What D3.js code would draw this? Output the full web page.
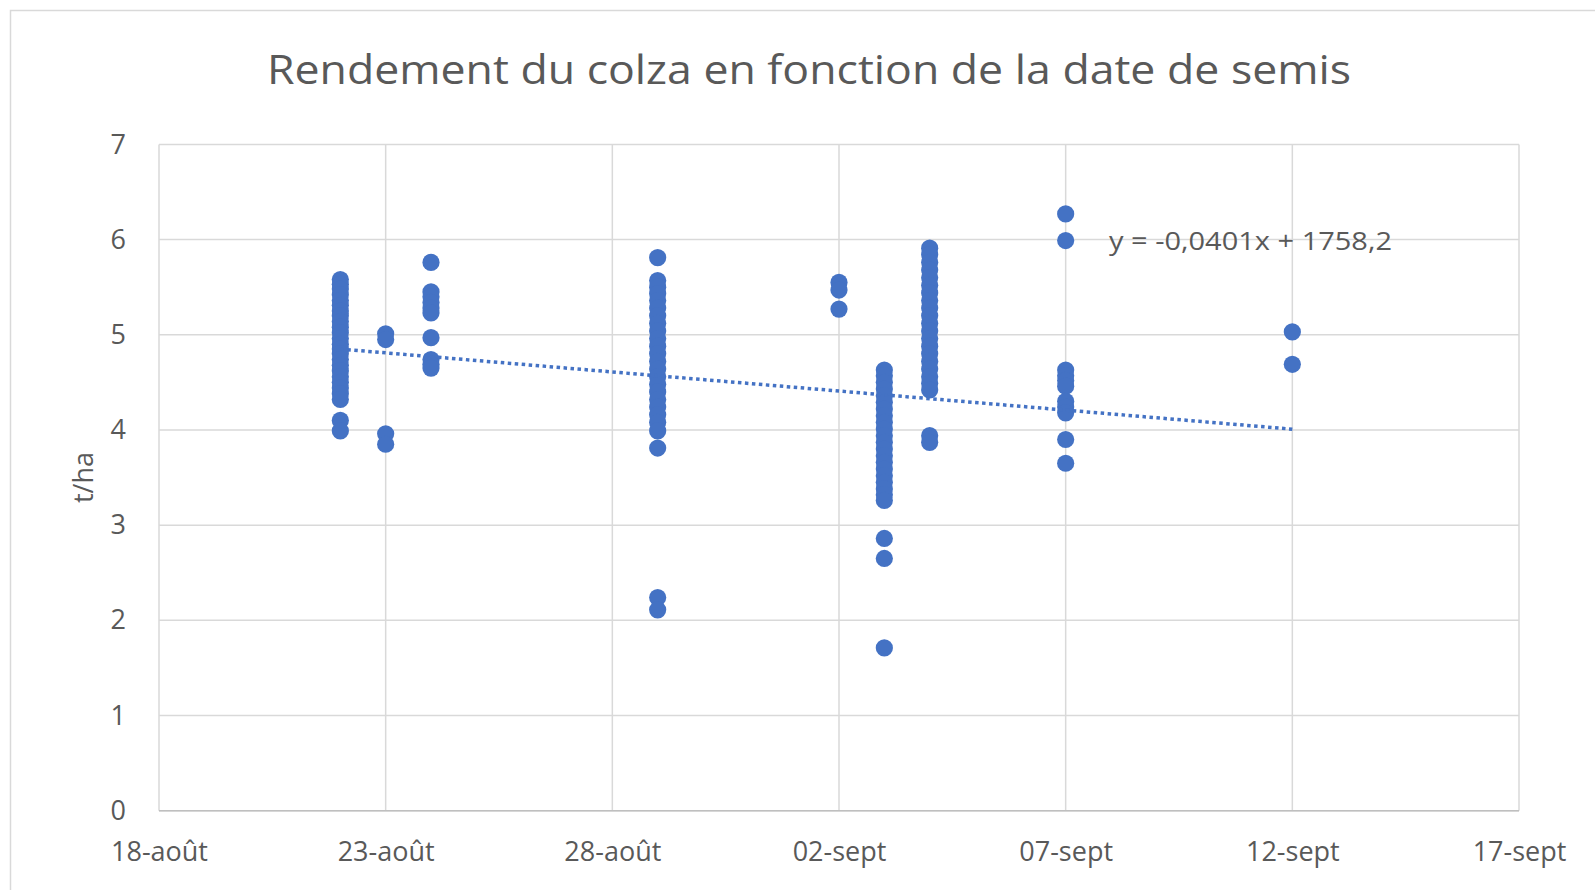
<!DOCTYPE html>
<html lang="fr">
<head>
<meta charset="utf-8">
<title>Rendement du colza</title>
<script src="https://d3js.org/d3.v7.min.js"></script>
<style>
  body { margin: 0; background: #fff; }
  text { font-family: "Open Sans", "Noto Sans", sans-serif; fill: #595959; }
  .grid line { stroke: #d9d9d9; stroke-width: 1.5px; }
</style>
</head>
<body>
<svg id="chart" width="1595" height="890"></svg>
<script>
// sowing dates and yields (t/ha)
var dates = ["2019-08-22", "2019-08-23", "2019-08-24", "2019-08-29", "2019-09-02",
             "2019-09-03", "2019-09-04", "2019-09-07", "2019-09-12"];

var yields = [
  [5.58, 5.53, 5.48, 5.42, 5.36, 5.31, 5.25, 5.2, 5.14, 5.08, 5.02, 4.96, 4.9, 4.85,
   4.8, 4.74, 4.68, 4.62, 4.56, 4.5, 4.44, 4.38, 4.32, 4.1, 3.99],
  [5.01, 4.95, 3.96, 3.85],
  [5.76, 5.45, 5.4, 5.34, 5.28, 5.23, 4.97, 4.74, 4.69, 4.65],
  [5.81, 5.57, 5.5, 5.43, 5.36, 5.28, 5.2, 5.12, 5.04, 4.96, 4.88, 4.8, 4.72, 4.64,
   4.56, 4.48, 4.4, 4.32, 4.24, 4.16, 4.08, 3.99, 3.81, 2.24, 2.11],
  [5.55, 5.47, 5.27],
  [4.63, 4.57, 4.5, 4.43, 4.36, 4.29, 4.22, 4.15, 4.08, 4.01, 3.94, 3.87, 3.8, 3.73,
   3.66, 3.59, 3.52, 3.45, 3.38, 3.32, 3.26, 2.86, 2.65, 1.71],
  [5.91, 5.84, 5.76, 5.68, 5.6, 5.52, 5.44, 5.36, 5.28, 5.2, 5.12, 5.04, 4.96, 4.88,
   4.8, 4.72, 4.64, 4.56, 4.49, 4.42, 3.94, 3.87],
  [6.27, 5.99, 4.63, 4.57, 4.52, 4.46, 4.3, 4.24, 4.18, 3.9, 3.65],
  [5.03, 4.69]
];

// linear trendline: slope from the equation (t/ha per day), value at first sowing date
var trendSlope = -0.0401;
var trendStartValue = 4.85;

var xTickLabels = ["18-août", "23-août", "28-août", "02-sept", "07-sept", "12-sept", "17-sept"];
var yTicks = [0, 1, 2, 3, 4, 5, 6, 7];
var title = "Rendement du colza en fonction de la date de semis";
var equation = "y = -0,0401x + 1758,2";

var parse = d3.timeParse("%Y-%m-%d");
var xStart = parse("2019-08-18"), xEnd = parse("2019-09-17");

var points = [];
dates.forEach(function(d, i) {
  yields[i].forEach(function(v) { points.push({date: parse(d), value: v}); });
});

var svg = d3.select("#chart");
var plotLeft = 159, plotRight = 1519, plotTop = 144.4, plotBottom = 810.7;

var x = d3.scaleTime().domain([xStart, xEnd]).range([plotLeft, plotRight]);
var y = d3.scaleLinear().domain([0, 7]).range([plotBottom, plotTop]);

// chart area border
svg.append("rect")
  .attr("x", 10.5).attr("y", 10.5)
  .attr("width", 1620).attr("height", 920)
  .attr("fill", "#fff").attr("stroke", "#d9d9d9").attr("stroke-width", 1.5);

var xTickDates = d3.timeDay.range(xStart, d3.timeDay.offset(xEnd, 1), 5);

// gridlines
var grid = svg.append("g").attr("class", "grid");
grid.selectAll(".h").data(yTicks).enter().append("line")
  .attr("x1", plotLeft).attr("x2", plotRight)
  .attr("y1", d => y(d)).attr("y2", d => y(d));
grid.selectAll(".v").data(xTickDates).enter().append("line")
  .attr("x1", d => x(d)).attr("x2", d => x(d))
  .attr("y1", plotTop).attr("y2", plotBottom);

svg.append("line")
  .attr("x1", plotLeft).attr("x2", plotRight)
  .attr("y1", plotBottom).attr("y2", plotBottom)
  .attr("stroke", "#bfbfbf").attr("stroke-width", 1.5);

// axes labels
var yAxis = d3.axisLeft(y).tickValues(yTicks).tickSize(0).tickPadding(33)
  .tickFormat(d3.format("d"));
svg.append("g").attr("transform", "translate(" + plotLeft + ",0)")
  .call(yAxis)
  .call(g => g.select(".domain").remove())
  .selectAll("text").style("font-size", "27px").attr("fill", "#595959");

var xAxis = d3.axisBottom(x).tickValues(xTickDates).tickSize(0).tickPadding(31)
  .tickFormat((d, i) => xTickLabels[i]);
svg.append("g").attr("transform", "translate(0," + plotBottom + ")")
  .call(xAxis)
  .call(g => g.select(".domain").remove())
  .selectAll("text").style("font-size", "27px").attr("fill", "#595959");

// points
svg.append("g").selectAll("circle").data(points).enter().append("circle")
  .attr("cx", d => x(d.date)).attr("cy", d => y(d.value))
  .attr("r", 8.6).attr("fill", "#4472c4");

// trendline over the range of sowing dates
var ext = d3.extent(points, d => d.date);
var trend = ext.map(d => ({date: d, value: trendStartValue + trendSlope * d3.timeDay.count(ext[0], d)}));

svg.append("path").datum(trend)
  .attr("d", d3.line().x(d => x(d.date)).y(d => y(d.value)))
  .attr("fill", "none").attr("stroke", "#4472c4")
  .attr("stroke-width", 3.5).attr("stroke-dasharray", "3.5 3.5");

svg.append("text")
  .attr("x", 1109).attr("y", 250)
  .style("font-size", "25px")
  .attr("textLength", 283).attr("lengthAdjust", "spacingAndGlyphs")
  .text(equation);

// titles
svg.append("text")
  .attr("x", 809).attr("y", 84)
  .attr("text-anchor", "middle")
  .style("font-size", "40px")
  .attr("textLength", 1084).attr("lengthAdjust", "spacingAndGlyphs")
  .text(title);

svg.append("text")
  .attr("transform", "translate(93," + ((plotTop + plotBottom) / 2) + ") rotate(-90)")
  .attr("text-anchor", "middle")
  .style("font-size", "27px")
  .text("t/ha");
</script>
</body>
</html>
